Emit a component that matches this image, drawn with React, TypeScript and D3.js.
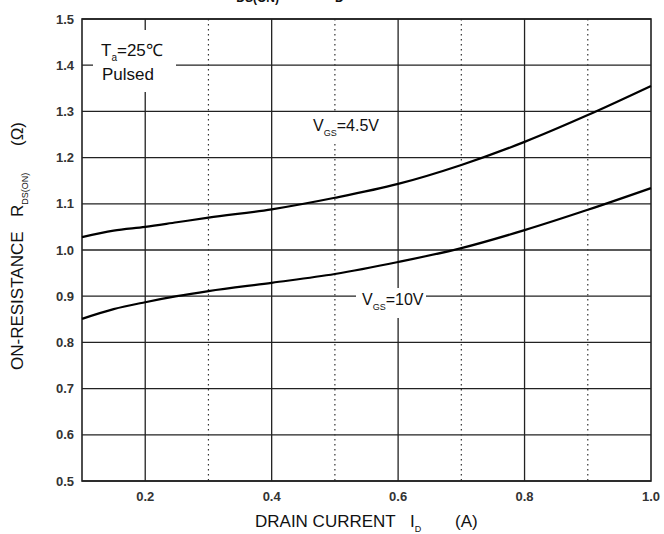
import React, { useEffect, useRef } from 'react';
import * as d3 from 'd3';

// drain current (A)
const current = [0.1, 0.15, 0.2, 0.25, 0.3, 0.4, 0.5, 0.6, 0.7, 0.8, 0.9, 1.0];
// on-resistance (ohm)
const rds45 = [1.028, 1.042, 1.050, 1.060, 1.070, 1.088, 1.113, 1.143, 1.184, 1.234, 1.292, 1.355];
const rds10 = [0.851, 0.872, 0.887, 0.900, 0.911, 0.929, 0.948, 0.974, 1.004, 1.043, 1.087, 1.134];

const xSolid = [0.2, 0.4, 0.6, 0.8];
const xDotted = [0.3, 0.5, 0.7, 0.9];
const yTicks = [0.5, 0.6, 0.7, 0.8, 0.9, 1.0, 1.1, 1.2, 1.3, 1.4, 1.5];

export default function App() {
  const node = useRef<SVGSVGElement>(null);

  useEffect(() => {
    const svg = d3.select(node.current);
    svg.selectAll('*').remove();

    const x = d3.scaleLinear().domain([0.1, 1.0]).range([82, 651]);
    const y = d3.scaleLinear().domain([0.5, 1.5]).range([481, 19]);
    const font = 'Liberation Sans, Arial, sans-serif';

    // grid
    svg.selectAll('line.h').data(yTicks).enter().append('line')
      .attr('x1', x(0.1)).attr('x2', x(1.0))
      .attr('y1', d => y(d)).attr('y2', d => y(d))
      .attr('stroke', '#222').attr('stroke-width', 1.3);
    svg.selectAll('line.vs').data(xSolid).enter().append('line')
      .attr('x1', d => x(d)).attr('x2', d => x(d))
      .attr('y1', y(1.5)).attr('y2', y(0.5))
      .attr('stroke', '#222').attr('stroke-width', 1.3);
    svg.selectAll('line.vd').data(xDotted).enter().append('line')
      .attr('x1', d => x(d)).attr('x2', d => x(d))
      .attr('y1', y(1.5)).attr('y2', y(0.5))
      .attr('stroke', '#333').attr('stroke-width', 1.2)
      .attr('stroke-dasharray', '1.5,3.5');
    // frame
    svg.append('rect')
      .attr('x', x(0.1)).attr('y', y(1.5))
      .attr('width', x(1.0) - x(0.1)).attr('height', y(0.5) - y(1.5))
      .attr('fill', 'none').attr('stroke', '#222').attr('stroke-width', 1.6);

    // curves
    const line = d3.line<number>()
      .x((d, i) => x(current[i]))
      .y(d => y(d))
      .curve(d3.curveMonotoneX);
    [rds45, rds10].forEach(s => {
      svg.append('path').attr('d', line(s)!)
        .attr('fill', 'none').attr('stroke', '#000').attr('stroke-width', 2.2);
    });

    // tick labels
    svg.selectAll('text.yt').data(yTicks).enter().append('text')
      .attr('x', 74).attr('y', d => y(d) + 4.5)
      .attr('text-anchor', 'end')
      .attr('font-family', font).attr('font-size', 13).attr('font-weight', 'bold')
      .attr('fill', '#333')
      .text(d => d.toFixed(1));
    svg.selectAll('text.xt').data([...xSolid, 1.0]).enter().append('text')
      .attr('x', d => x(d)).attr('y', 501)
      .attr('text-anchor', 'middle')
      .attr('font-family', font).attr('font-size', 13).attr('font-weight', 'bold')
      .attr('fill', '#333')
      .text(d => d.toFixed(1));

    // legend box
    svg.append('rect').attr('x', 93).attr('y', 30).attr('width', 83).attr('height', 62).attr('fill', '#fff');
    const ta = svg.append('text').attr('x', 101).attr('y', 56)
      .attr('font-family', font).attr('font-size', 17).attr('fill', '#111');
    ta.append('tspan').text('T');
    ta.append('tspan').attr('font-size', 10).attr('dy', 5).text('a');
    ta.append('tspan').attr('dy', -5).text('=25℃');
    svg.append('text').attr('x', 102).attr('y', 80)
      .attr('font-family', font).attr('font-size', 17).attr('fill', '#111')
      .text('Pulsed');

    // curve labels
    const vgs = (lx: number, ly: number, val: string, w: number) => {
      svg.append('rect').attr('x', lx - 6).attr('y', ly - 17).attr('width', w).attr('height', 30).attr('fill', '#fff');
      const t = svg.append('text').attr('x', lx).attr('y', ly)
        .attr('font-family', font).attr('font-size', 16).attr('fill', '#111');
      t.append('tspan').text('V');
      t.append('tspan').attr('font-size', 9).attr('dy', 5).text('GS');
      t.append('tspan').attr('dy', -5).text(val);
    };
    vgs(313, 131, '=4.5V', 84);
    vgs(362, 305, '=10V', 70);

    // axis titles
    const xt = svg.append('text').attr('x', 255).attr('y', 527)
      .attr('font-family', font).attr('font-size', 17).attr('fill', '#111');
    xt.append('tspan').text('DRAIN CURRENT');
    xt.append('tspan').attr('x', 410).text('I');
    xt.append('tspan').attr('font-size', 9).attr('dy', 5).text('D');
    xt.append('tspan').attr('dy', -5).attr('x', 455).text('(A)');

    const yt = svg.append('text').attr('transform', 'translate(23,370) rotate(-90)')
      .attr('font-family', font).attr('font-size', 17).attr('fill', '#111');
    yt.append('tspan').attr('x', 0).text('ON-RESISTANCE');
    yt.append('tspan').attr('x', 153).text('R');
    yt.append('tspan').attr('font-size', 9).attr('dy', 5).text('DS(ON)');
    yt.append('tspan').attr('dy', -5).attr('x', 224).text('(Ω)');

    // title, cut off at top as in the source
    const tt = svg.append('text').attr('x', 224).attr('y', -4)
      .attr('font-family', font).attr('font-size', 17).attr('font-weight', 'bold').attr('fill', '#111');
    tt.append('tspan').text('R');
    tt.append('tspan').attr('font-size', 12).attr('dy', 6).text('DS(ON)');
    tt.append('tspan').attr('dy', -6).attr('x', 300).text('vs.  I');
    tt.append('tspan').attr('font-size', 12).attr('dy', 6).attr('x', 335).text('D');
  }, []);

  return (
    <svg ref={node} width={664} height={534}
      style={{ position: 'absolute', left: 0, top: 0, background: '#fff' }} />
  );
}
